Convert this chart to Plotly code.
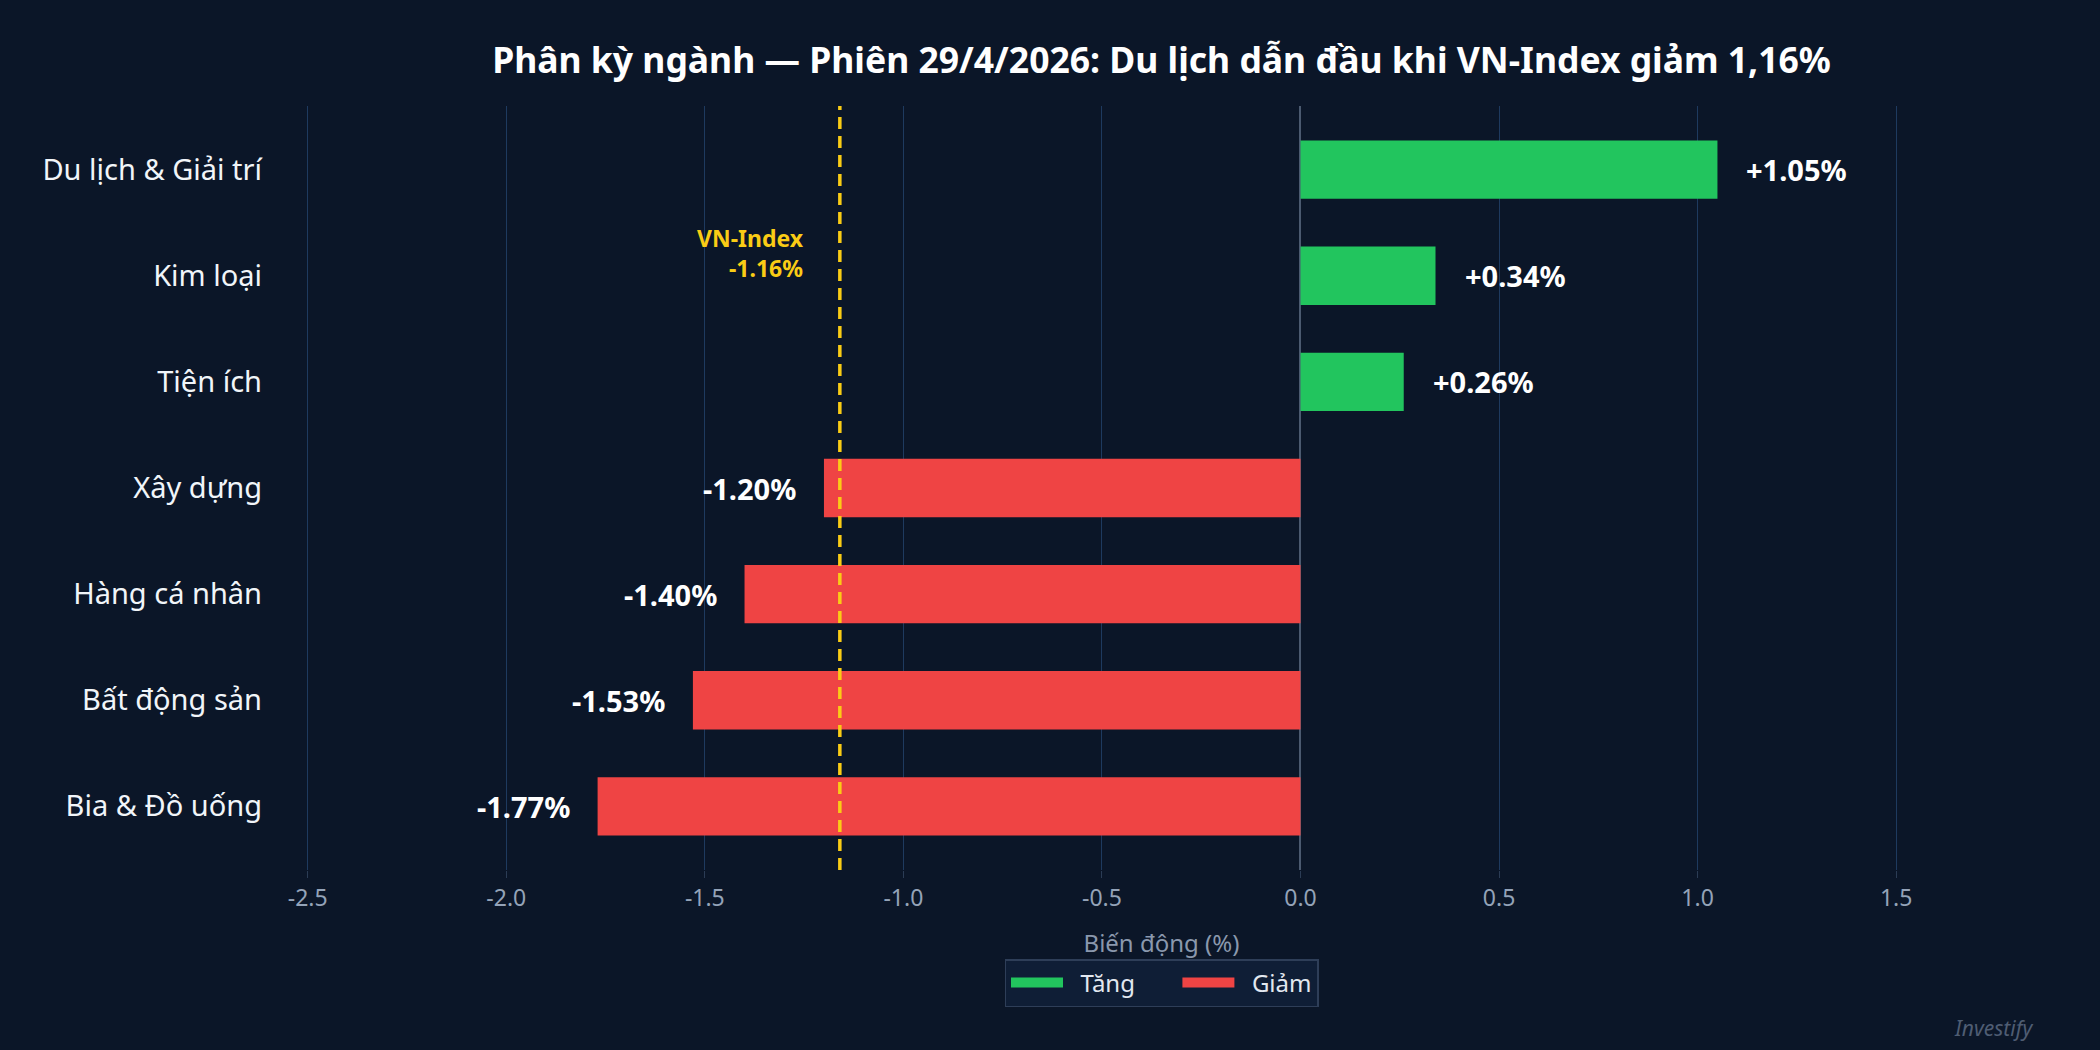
import plotly.graph_objects as go

# ------------------------------------ Data ------------------------------------

sectors = ["Du lịch & Giải trí", "Kim loại", "Tiện ích", "Xây dựng", "Hàng cá nhân", "Bất động sản", "Bia & Đồ uống"]
changes = [1.05, 0.34, 0.26, -1.20, -1.40, -1.53, -1.77]
vnindex_change = -1.16
x_ticks = [-2.5, -2.0, -1.5, -1.0, -0.5, 0.0, 0.5, 1.0, 1.5]
legend_names = ["Tăng", "Giảm"]

# Colours
bg_color = "#0B1628"
green = "#22C55E"
red = "#EF4444"
yellow = "#FACC15"
grid_color = "#1E3A5F"
muted = "#94A3B8"
font_family = "Noto Sans"

# Split the sectors into up / down traces
up_sectors = [s for s, v in zip(sectors, changes) if v >= 0]
up_values = [v for v in changes if v >= 0]
down_sectors = [s for s, v in zip(sectors, changes) if v < 0]
down_values = [v for v in changes if v < 0]

# ------------------------------------ Figure ------------------------------------

fig = go.Figure()
fig.add_trace(go.Bar(x=up_values, y=up_sectors, orientation="h", name=legend_names[0], showlegend=False,
                     marker=dict(color=green, line=dict(width=0)), width=0.55))
fig.add_trace(go.Bar(x=down_values, y=down_sectors, orientation="h", name=legend_names[1], showlegend=False,
                     marker=dict(color=red, line=dict(width=0)), width=0.55))

# Legend entries (wide swatches); padding with non-breaking spaces for spacing
nbsp = "\u00a0"
fig.add_trace(go.Scatter(x=[None], y=[None], mode="lines", name=nbsp * 2 + legend_names[0] + nbsp * 6,
                         line=dict(color=green, width=20)))
fig.add_trace(go.Scatter(x=[None], y=[None], mode="lines", name=nbsp * 2 + legend_names[1],
                         line=dict(color=red, width=20)))

# Value labels next to each bar
for sector, value in zip(sectors, changes):
    fig.add_annotation(x=value, y=sector, xref="x", yref="y",
                       text="<b>{:+.2f}%</b>".format(value), showarrow=False,
                       xanchor="left" if value >= 0 else "right",
                       xshift=27 if value >= 0 else -26,
                       font=dict(family=font_family, size=29, color="white"))

# VN-Index reference line
fig.add_shape(type="line", x0=vnindex_change, x1=vnindex_change, y0=0, y1=1,
              xref="x", yref="paper", line=dict(color=yellow, width=3.5, dash="12px,7px"))
fig.add_annotation(x=vnindex_change, y=0.808, xref="x", yref="paper",
                   text="<b>VN-Index<br>{:.2f}%</b>".format(vnindex_change),
                   showarrow=False, xanchor="right", yanchor="middle", align="right",
                   xshift=-34, font=dict(family=font_family, size=23, color=yellow))

# Watermark
fig.add_annotation(x=0.989, y=-0.207, xref="paper", yref="paper", text="Investify",
                   showarrow=False, xanchor="right", yanchor="middle",
                   font=dict(family=font_family, size=21, color="#4F5D73", style="italic"))

fig.update_layout(
    width=2100, height=1050,
    paper_bgcolor=bg_color, plot_bgcolor=bg_color,
    font=dict(family=font_family, color="white"),
    margin=dict(l=268, r=45, t=106, b=180, autoexpand=False),
    barmode="relative",
    title=dict(text="<b>Phân kỳ ngành — Phiên 29/4/2026: Du lịch dẫn đầu khi VN-Index giảm 1,16%</b>",
               x=0.5, xref="paper", xanchor="center", y=0.942, yref="container", yanchor="middle",
               font=dict(family=font_family, size=35.5, color="white")),
    showlegend=True,
    legend=dict(orientation="h", x=0.5, xanchor="center", y=-0.1165, yanchor="top",
                bgcolor="#0F1E36", bordercolor="#2E3E58", borderwidth=1.5,
                itemwidth=52,
                font=dict(family=font_family, size=24, color="#E2E8F0")),
)

fig.update_xaxes(range=[-2.6, 1.9], tickvals=x_ticks, ticktext=["{:.1f}".format(t) for t in x_ticks],
                 showgrid=True, gridcolor=grid_color, gridwidth=1,
                 zeroline=True, zerolinecolor="#4B5A70", zerolinewidth=2,
                 ticks="outside", ticklen=7, tickcolor="#2B3C55",
                 tickfont=dict(family=font_family, size=23, color=muted),
                 title=dict(text="Biến động (%)", standoff=23,
                            font=dict(family=font_family, size=24, color="#8A98AD")),
                 showline=False, fixedrange=True)
fig.update_yaxes(categoryorder="array", categoryarray=sectors, range=[6.6, -0.6],
                 showgrid=False, zeroline=False, showline=False, ticks="", ticklabelstandoff=5,
                 tickfont=dict(family=font_family, size=29, color="#F1F5F9"))

# Remove the page margin so the figure fills the window
fig.write_html("out.html", config={"displayModeBar": False},
               post_script="document.body.style.margin='0';document.body.style.background='%s';" % bg_color)
